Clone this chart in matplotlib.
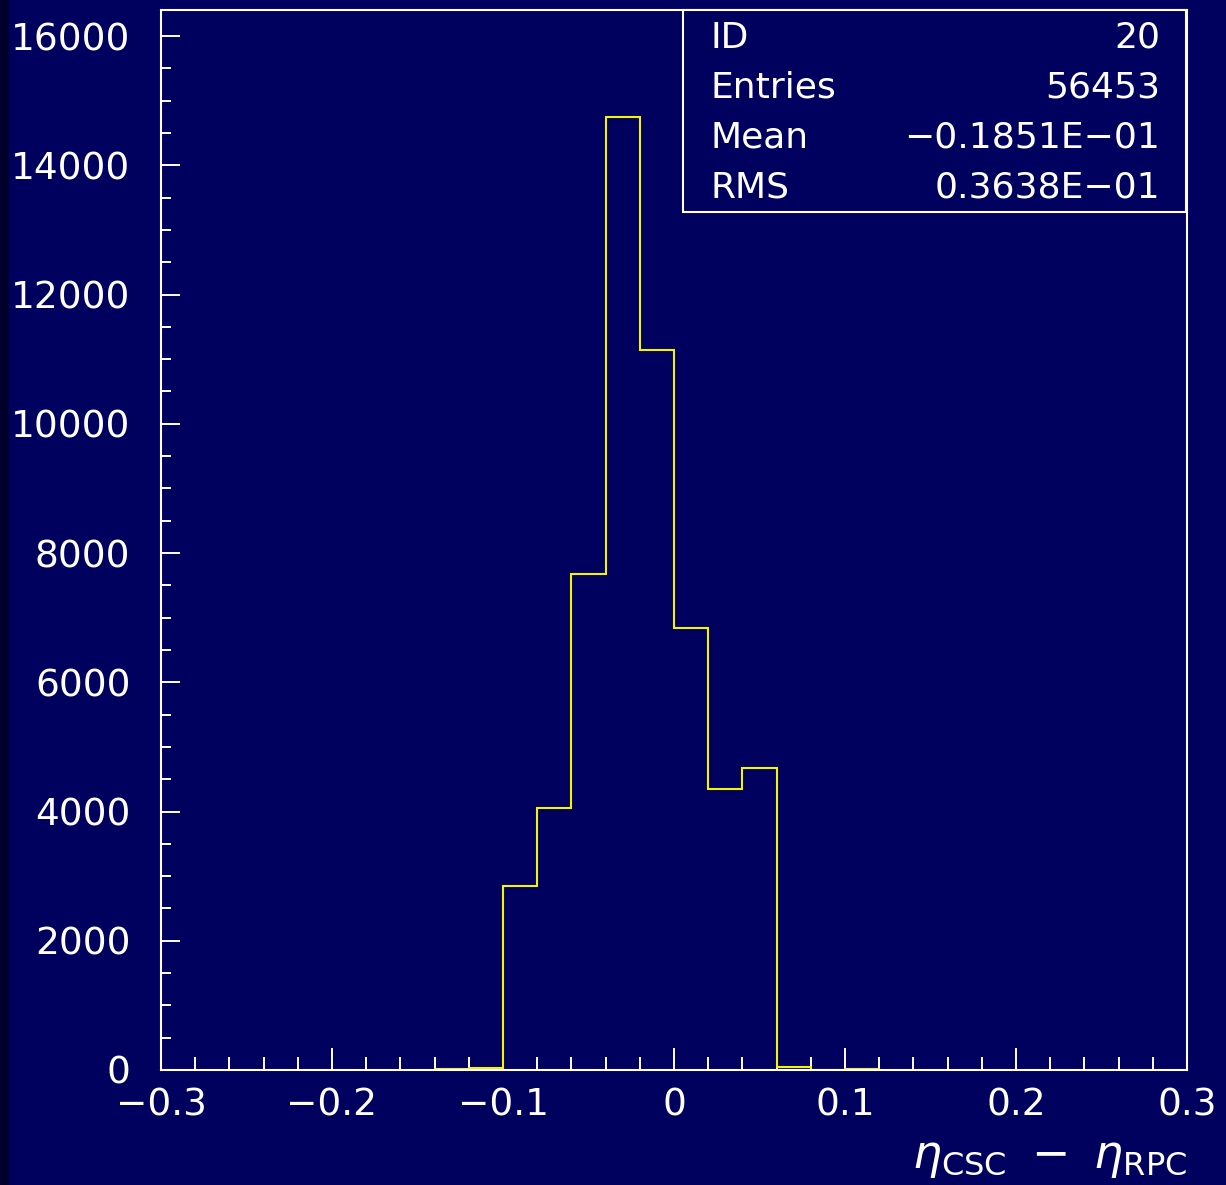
"""PAW-style histogram: eta_CSC - eta_RPC residuals (ID 20)."""

import matplotlib

matplotlib.use("Agg")
import matplotlib.pyplot as plt
from matplotlib.patches import Rectangle
from matplotlib.ticker import MultipleLocator

NAVY = "#00005f"
INK = "white"
HIST = "#f4f400"

# bin edges (width 0.02) and counts
edges = [-0.14, -0.12, -0.10, -0.08, -0.06, -0.04, -0.02, 0.0,
         0.02, 0.04, 0.06, 0.08, 0.10, 0.12]
counts = [20, 25, 2852, 4050, 7671, 14751, 11141, 6844,
          4353, 4678, 50, 0, 18]

stat_names = ["ID", "Entries", "Mean", "RMS"]
stat_values = ["20", "56453", "\u22120.1851E\u221201", "0.3638E\u221201"]

W, H = 1226, 1185
fig = plt.figure(figsize=(W / 100, H / 100), dpi=100, facecolor=NAVY)
ax = fig.add_axes([161 / W, 1 - 1070 / H, (1187 - 161) / W, (1070 - 10) / H])
ax.set_facecolor(NAVY)

ax.stairs(counts, edges, baseline=0, color=HIST, linewidth=1.5, zorder=2)

ax.set_xlim(-0.3, 0.3)
ax.set_ylim(0, 16000 * (1070 - 10) / (1070 - 36))
ax.xaxis.set_minor_locator(MultipleLocator(0.02))
ax.yaxis.set_minor_locator(MultipleLocator(500))
ax.set_xticks([-0.3, -0.2, -0.1, 0, 0.1, 0.2, 0.3])
ax.set_xticklabels(["\u22120.3", "\u22120.2", "\u22120.1", "0", "0.1", "0.2", "0.3"])
ax.set_yticks(range(0, 16001, 2000))
ax.set_yticklabels([str(v) for v in range(0, 16001, 2000)])

for s in ax.spines.values():
    s.set_color(INK)
    s.set_linewidth(1.5)
ax.tick_params(axis="both", which="both", direction="in", colors=INK,
               width=1.4, labelsize=27, top=False, right=False)
ax.tick_params(axis="x", which="major", length=16, pad=12.5)
ax.tick_params(axis="x", which="minor", length=9.5)
ax.tick_params(axis="y", which="major", length=14, pad=22)
ax.tick_params(axis="y", which="minor", length=7.5)

# statistics box in the top right corner
fig.patches.append(Rectangle((683 / W, 1 - 212 / H), (1186 - 683) / W, (212 - 10) / H,
                             transform=fig.transFigure, facecolor=NAVY,
                             edgecolor=INK, linewidth=1.5, zorder=5))
for k, (name, val) in enumerate(zip(stat_names, stat_values)):
    y = 1 - (38 + 50 * k) / H
    fig.text(711 / W, y, name, ha="left", va="center", fontsize=26, color=INK, zorder=6)
    fig.text(1160 / W, y, val, ha="right", va="center", fontsize=26, color=INK, zorder=6)

fig.text(1187 / W, 1 - 1158 / H, r"$\eta_{\mathrm{CSC}}\ -\ \eta_{\mathrm{RPC}}$",
         ha="right", va="center", fontsize=33, color=INK)

# darker strip along the left edge of the screenshot
fig.patches.append(Rectangle((0, 0), 9 / W, 1, transform=fig.transFigure,
                             facecolor="#00002a", edgecolor="none", zorder=1))

fig.savefig("out.png", dpi=100, facecolor=NAVY)
